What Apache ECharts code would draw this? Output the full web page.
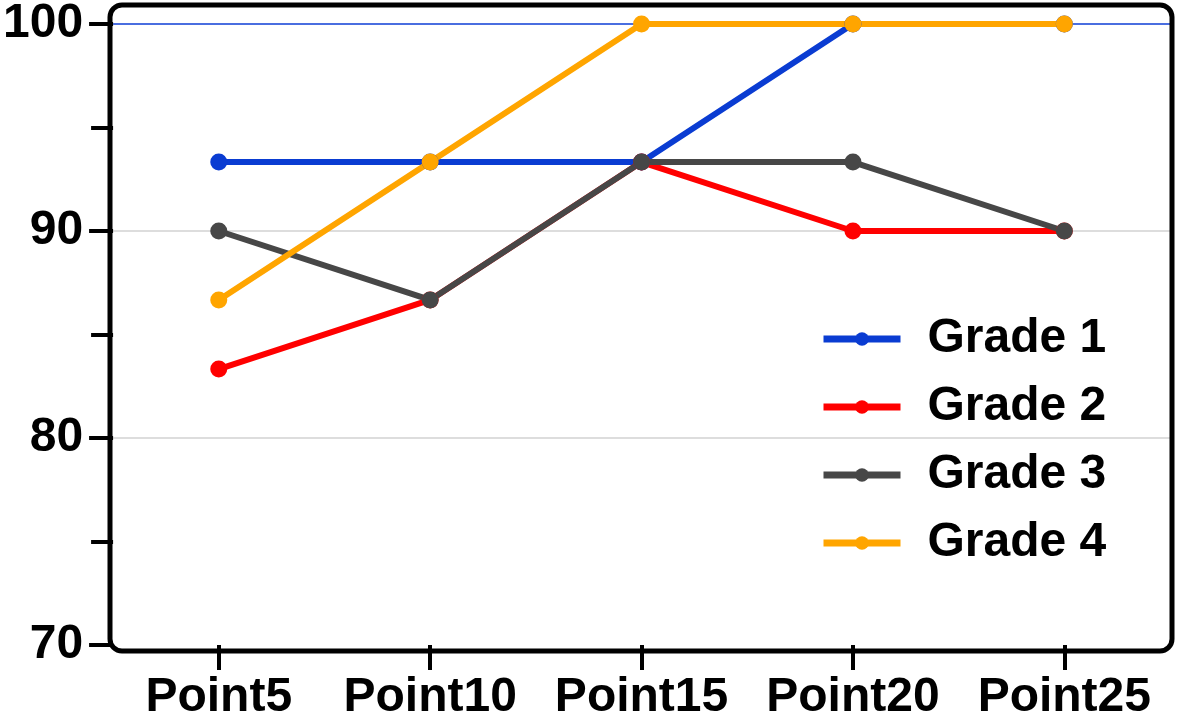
<!DOCTYPE html>
<html><head><meta charset="utf-8">
<script src="https://cdn.jsdelivr.net/npm/echarts@6/dist/echarts.min.js"></script>
<style>html,body{margin:0;padding:0;background:#fff;}#c{width:1181px;height:722px;}</style>
</head><body><div id="c"></div>
<script>
const categories = ['Point5', 'Point10', 'Point15', 'Point20', 'Point25'];
const seriesNames = ['Grade 1', 'Grade 2', 'Grade 3', 'Grade 4'];
const grade1 = [93.33, 93.33, 93.33, 100, 100];
const grade2 = [83.33, 86.67, 93.33, 90, 90];
const grade3 = [90, 86.67, 93.33, 93.33, 90];
const grade4 = [86.67, 93.33, 100, 100, 100];
const colors = ['#0a3cd2', '#ff0000', '#474747', '#ffa500'];
const yMin = 70, yMax = 100, yInterval = 10;

const chart = echarts.init(document.getElementById('c'), null, {renderer: 'canvas'});
const font = '"Liberation Sans", Arial, sans-serif';
const mk = (name, data, i) => ({
  name, type: 'line', data,
  symbol: 'circle', symbolSize: 17,
  lineStyle: {width: 6, color: colors[i]},
  itemStyle: {color: colors[i]},
  emphasis: {disabled: true}
});
chart.setOption({
  animation: false,
  backgroundColor: '#fff',
  grid: {left: 108, right: 11, top: 19, bottom: 71},
  graphic: [{
    type: 'rect', z: 5,
    shape: {x: 110, y: 5, width: 1062, height: 646, r: 12},
    style: {fill: 'none', stroke: '#000', lineWidth: 5}
  }],
  legend: {
    orient: 'vertical', left: 815, top: 310,
    itemWidth: 77, itemHeight: 17, itemGap: 20,
    lineStyle: {width: 7},
    textStyle: {fontFamily: font, fontWeight: 'bold', fontSize: 48, color: '#000', padding: [0, 0, 0, 22]},
    data: seriesNames
  },
  xAxis: {
    type: 'category', data: categories, boundaryGap: true,
    axisLine: {show: false},
    axisTick: {show: true, alignWithLabel: true, interval: 0, length: 25, lineStyle: {color: '#000', width: 4}},
    axisLabel: {interval: 0, margin: 29, fontFamily: font, fontWeight: 'bold', fontSize: 48, color: '#000'}
  },
  yAxis: {
    type: 'value', min: yMin, max: yMax, interval: yInterval,
    axisLine: {show: false},
    axisTick: {show: true, length: 24, lineStyle: {color: '#000', width: 4}},
    minorTick: {show: true, splitNumber: 2, length: 22, lineStyle: {color: '#000', width: 4}},
    axisLabel: {margin: 30, fontFamily: font, fontWeight: 'bold', fontSize: 48, color: '#000'},
    splitLine: {show: true, lineStyle: {color: ['transparent', '#dddddd', '#dddddd', '#4a6ee0'], width: 2}}
  },
  series: [
    mk(seriesNames[0], grade1, 0),
    mk(seriesNames[1], grade2, 1),
    mk(seriesNames[2], grade3, 2),
    mk(seriesNames[3], grade4, 3)
  ]
});
</script></body></html>
